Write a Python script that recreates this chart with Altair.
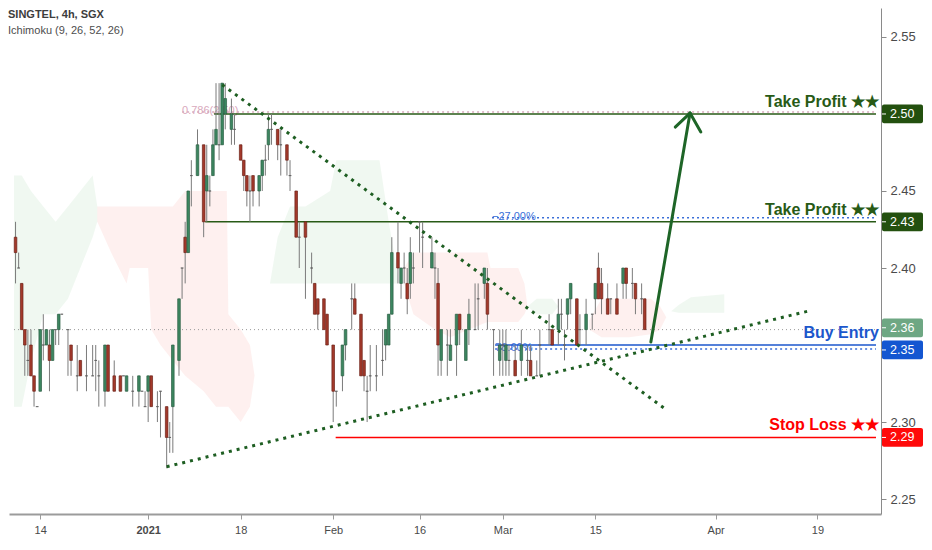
import altair as alt
import pandas as pd

# ---------------- data ----------------
bars = [1, 2, 3, 4, 5, 6, 7, 8, 9, 10, 11, 12, 13, 14, 15, 16, 18, 19, 21, 22, 24, 26, 27, 28, 30, 31, 33, 35, 36, 37,
        39, 41, 42, 43, 44, 45, 47, 48, 50, 51, 52, 54, 55, 56, 57, 58, 60, 62, 63, 64, 65, 66, 67, 68, 69, 71, 72, 74,
        75, 76, 77, 78, 80, 81, 82, 83, 84, 86, 87, 89, 90, 92, 93, 95, 97, 98, 99, 101, 102, 104, 105, 107, 108, 110,
        111, 113, 114, 115, 116, 118, 120, 121, 122, 123, 125, 126, 127, 128, 129, 130, 132, 133, 136, 137, 138, 139,
        141, 142, 144, 145, 147, 148, 150, 151, 153, 154, 156, 158, 159, 160, 161, 163, 165, 167, 168, 170, 171, 174,
        175, 177, 178, 179, 180, 181, 183, 184, 186, 188, 189, 190, 191, 193, 194, 196, 198, 199, 201, 202, 204, 205]
opens = [2.42, 2.40, 2.39, 2.36, 2.34, 2.35, 2.33, 2.31, 2.32, 2.35, 2.35, 2.35, 2.34, 2.36, 2.36, 2.37, 2.36, 2.35,
         2.33, 2.34, 2.33, 2.33, 2.34, 2.33, 2.32, 2.35, 2.33, 2.33, 2.33, 2.32, 2.32, 2.32, 2.32, 2.31, 2.32, 2.33,
         2.31, 2.32, 2.31, 2.29, 2.31, 2.34, 2.40, 2.42, 2.41, 2.46, 2.46, 2.48, 2.45, 2.45, 2.46, 2.48, 2.48, 2.48,
         2.50, 2.49, 2.49, 2.48, 2.47, 2.46, 2.45, 2.46, 2.45, 2.46, 2.47, 2.48, 2.49, 2.49, 2.48, 2.48, 2.46, 2.45,
         2.42, 2.43, 2.40, 2.39, 2.38, 2.38, 2.37, 2.35, 2.32, 2.33, 2.35, 2.38, 2.38, 2.37, 2.34, 2.32, 2.33, 2.33,
         2.34, 2.35, 2.35, 2.37, 2.41, 2.39, 2.40, 2.39, 2.39, 2.40, 2.43, 2.42, 2.40, 2.40, 2.39, 2.34, 2.35, 2.34,
         2.35, 2.37, 2.34, 2.36, 2.36, 2.38, 2.39, 2.39, 2.36, 2.34, 2.35, 2.34, 2.34, 2.34, 2.34, 2.34, 2.34, 2.33,
         2.35, 2.36, 2.36, 2.36, 2.37, 2.35, 2.37, 2.38, 2.38, 2.36, 2.36, 2.37, 2.38, 2.40, 2.39, 2.38, 2.38, 2.38,
         2.39, 2.40, 2.39, 2.39, 2.38, 2.38]
highs = [2.43, 2.41, 2.39, 2.36, 2.36, 2.36, 2.33, 2.31, 2.36, 2.37, 2.36, 2.36, 2.36, 2.36, 2.37, 2.37, 2.36, 2.35,
         2.35, 2.34, 2.35, 2.35, 2.35, 2.34, 2.35, 2.35, 2.34, 2.33, 2.33, 2.33, 2.33, 2.33, 2.32, 2.32, 2.33, 2.33,
         2.32, 2.32, 2.31, 2.30, 2.35, 2.38, 2.40, 2.43, 2.45, 2.47, 2.49, 2.48, 2.48, 2.46, 2.49, 2.52, 2.52, 2.52,
         2.52, 2.51, 2.50, 2.48, 2.47, 2.46, 2.46, 2.46, 2.46, 2.47, 2.48, 2.50, 2.50, 2.49, 2.49, 2.48, 2.47, 2.45,
         2.43, 2.43, 2.41, 2.39, 2.38, 2.38, 2.37, 2.35, 2.32, 2.35, 2.36, 2.39, 2.39, 2.37, 2.34, 2.33, 2.35, 2.35,
         2.36, 2.36, 2.37, 2.42, 2.43, 2.40, 2.41, 2.40, 2.42, 2.41, 2.43, 2.43, 2.42, 2.41, 2.40, 2.36, 2.36, 2.36,
         2.37, 2.37, 2.36, 2.38, 2.39, 2.39, 2.40, 2.40, 2.36, 2.36, 2.36, 2.36, 2.35, 2.35, 2.36, 2.35, 2.35, 2.34,
         2.36, 2.37, 2.36, 2.38, 2.38, 2.36, 2.38, 2.39, 2.38, 2.37, 2.38, 2.37, 2.39, 2.41, 2.40, 2.39, 2.38, 2.39,
         2.40, 2.40, 2.40, 2.39, 2.39, 2.38]
lows = [2.39, 2.40, 2.36, 2.33, 2.33, 2.33, 2.31, 2.31, 2.32, 2.34, 2.35, 2.32, 2.34, 2.35, 2.35, 2.37, 2.33, 2.33,
        2.32, 2.33, 2.32, 2.33, 2.32, 2.31, 2.31, 2.32, 2.32, 2.32, 2.33, 2.32, 2.31, 2.31, 2.32, 2.31, 2.30, 2.31,
        2.30, 2.29, 2.27, 2.28, 2.28, 2.33, 2.38, 2.39, 2.41, 2.44, 2.46, 2.42, 2.43, 2.44, 2.46, 2.48, 2.47, 2.48,
        2.49, 2.48, 2.48, 2.47, 2.45, 2.44, 2.43, 2.44, 2.44, 2.45, 2.46, 2.47, 2.48, 2.47, 2.46, 2.46, 2.45, 2.42,
        2.40, 2.38, 2.39, 2.37, 2.36, 2.36, 2.35, 2.30, 2.31, 2.32, 2.34, 2.36, 2.37, 2.33, 2.32, 2.30, 2.32, 2.32,
        2.33, 2.34, 2.35, 2.37, 2.39, 2.38, 2.39, 2.37, 2.38, 2.39, 2.41, 2.40, 2.40, 2.38, 2.33, 2.33, 2.33, 2.34,
        2.33, 2.35, 2.34, 2.35, 2.36, 2.36, 2.38, 2.36, 2.33, 2.33, 2.33, 2.33, 2.33, 2.33, 2.33, 2.33, 2.33, 2.33,
        2.33, 2.35, 2.35, 2.35, 2.36, 2.34, 2.36, 2.37, 2.35, 2.35, 2.35, 2.36, 2.37, 2.38, 2.37, 2.37, 2.37, 2.37,
        2.38, 2.38, 2.38, 2.37, 2.37, 2.36]
closes = [2.41, 2.40, 2.36, 2.35, 2.34, 2.33, 2.32, 2.31, 2.36, 2.35, 2.36, 2.34, 2.36, 2.36, 2.37, 2.37, 2.36, 2.34,
          2.33, 2.33, 2.33, 2.33, 2.34, 2.33, 2.35, 2.32, 2.32, 2.32, 2.33, 2.33, 2.32, 2.33, 2.32, 2.31, 2.33, 2.31,
          2.31, 2.32, 2.29, 2.29, 2.35, 2.38, 2.40, 2.41, 2.45, 2.46, 2.48, 2.43, 2.46, 2.45, 2.48, 2.49, 2.48, 2.52,
          2.51, 2.50, 2.49, 2.47, 2.46, 2.45, 2.45, 2.45, 2.46, 2.47, 2.47, 2.49, 2.49, 2.48, 2.48, 2.47, 2.46, 2.42,
          2.42, 2.42, 2.40, 2.37, 2.37, 2.36, 2.35, 2.32, 2.32, 2.35, 2.36, 2.38, 2.37, 2.33, 2.33, 2.32, 2.33, 2.33,
          2.34, 2.36, 2.37, 2.41, 2.40, 2.40, 2.40, 2.38, 2.41, 2.40, 2.43, 2.42, 2.41, 2.40, 2.35, 2.36, 2.35, 2.35,
          2.37, 2.36, 2.36, 2.37, 2.36, 2.38, 2.40, 2.37, 2.36, 2.35, 2.35, 2.35, 2.34, 2.33, 2.35, 2.34, 2.33, 2.33,
          2.35, 2.36, 2.35, 2.37, 2.37, 2.35, 2.38, 2.39, 2.35, 2.36, 2.37, 2.37, 2.39, 2.38, 2.38, 2.37, 2.38, 2.37,
          2.40, 2.39, 2.39, 2.38, 2.38, 2.36]

# Ichimoku cloud segments (bar, span top, span bottom)
cloud_green_1 = ([0.5, 3, 6, 10, 14, 18, 22, 26, 27.5],
                 [2.46, 2.46, 2.45, 2.44, 2.43, 2.44, 2.45, 2.46, 2.44],
                 [2.31, 2.31, 2.34, 2.37, 2.37, 2.38, 2.40, 2.42, 2.43])
cloud_red_1 = ([27.5, 32, 37, 38, 44, 45, 48, 52, 56, 62, 66, 69.5, 70, 74, 77, 78.5],
               [2.44, 2.44, 2.44, 2.44, 2.44, 2.44, 2.44, 2.44, 2.45, 2.45, 2.45, 2.45, 2.37, 2.36, 2.35, 2.33],
               [2.43, 2.41, 2.39, 2.40, 2.40, 2.36, 2.35, 2.34, 2.33, 2.32, 2.31, 2.31, 2.31, 2.30, 2.31, 2.33])
cloud_green_2 = ([83.5, 86, 90, 95, 103, 105, 112, 119, 122, 125],
                 [2.39, 2.42, 2.44, 2.44, 2.45, 2.47, 2.47, 2.47, 2.43, 2.395],
                 [2.39, 2.39, 2.39, 2.39, 2.39, 2.39, 2.39, 2.39, 2.39, 2.39])
cloud_red_2 = ([127, 130, 137, 142, 148, 154, 155, 164, 166, 167],
               [2.40, 2.41, 2.41, 2.41, 2.41, 2.41, 2.40, 2.40, 2.39, 2.375],
               [2.39, 2.37, 2.36, 2.355, 2.36, 2.365, 2.365, 2.365, 2.37, 2.375])
cloud_green_3 = ([167, 170, 175, 177],
                 [2.375, 2.38, 2.38, 2.375],
                 [2.375, 2.37, 2.37, 2.375])
cloud_red_3 = ([187, 191, 200, 207, 210, 212],
               [2.366, 2.38, 2.38, 2.38, 2.375, 2.368],
               [2.36, 2.355, 2.355, 2.357, 2.36, 2.368])
cloud_green_4 = ([213.6, 216, 220, 230.8],
                 [2.372, 2.376, 2.381, 2.383],
                 [2.372, 2.371, 2.371, 2.371])

x_tick_bars = [9, 44, 74, 104, 132, 159, 189, 228, 261]
x_tick_text = ["14", "2021", "18", "Feb", "16", "Mar", "15", "Apr", "19"]
# 2.50 and 2.35 axis labels are hidden under the price badges in the reference
y_ticks = [2.25, 2.30, 2.40, 2.45, 2.55]

# horizontal levels: name, price, start bar
level_names = ["tp1", "tp2", "buy", "sl"]
level_prices = [2.50, 2.43, 2.35, 2.29]
level_start = [65.4, 62.5, 156.5, 104.8]
level_texts = ["Take Profit ★★", "Take Profit ★★", "Buy Entry", "Stop Loss ★★"]

fib_names = ["f786", "f27", "f786b"]
fib_prices = [2.5013, 2.4327, 2.3474]
fib_start = [55, 155.5, 156.5]
fib_texts = ["0.786(2.50)", "−27.00%", "78.60%"]

last_price = 2.36

badge_text = ["2.50", "2.43", "2.36", "2.35", "2.29"]
badge_pos = [2.50, 2.43, 2.3612, 2.3468, 2.29]
badge_kind = ["tp", "tp", "last", "buy", "sl"]

# trendlines (bar, price)
trend_id = ["down", "down", "up", "up"]
trend_bar = [68, 212, 50, 258]
trend_price = [2.519, 2.308, 2.271, 2.372]

arrow_bar = [207, 219.7]
arrow_price = [2.352, 2.5006]
head_bar = [214.9, 223.2]
head_price = [2.4915, 2.4883]

# ---------------- chart ----------------
W, H = 872, 506
X_DOM = [0.5, 280]
X_END = 280
xs = alt.Scale(domain=X_DOM, nice=False, zero=False)
ys = alt.Scale(domain=[2.2403, 2.5688], nice=False, zero=False)

GREEN = "#285a16"
BADGE_GREEN = "#23500f"
BLUE = "#1c57cc"
RED = "#ff0000"
TREND = "#1e5e22"

label_expr = "[" + ",".join("'%s'" % t for t in x_tick_text) + "][indexof([" + \
    ",".join(str(b) for b in x_tick_bars) + "], datum.value)]"

xaxis = alt.Axis(values=x_tick_bars, labelExpr=label_expr, title=None, grid=False,
                 domainColor="#9b9b9b", domainWidth=2, tickColor="#9b9b9b", tickSize=5,
                 labelColor="#4a4a4a", labelFontSize=11, labelFont="Liberation Sans",
                 labelPadding=5,
                 labelFontWeight={"condition": {"test": "datum.value == 44", "value": "bold"},
                                  "value": "normal"})
yaxis = alt.Axis(values=y_ticks, format=".2f", orient="right", title=None, grid=False,
                 domainColor="#8a8a8a", tickColor="#8a8a8a", tickSize=5, labelPadding=4,
                 labelColor="#4a4a4a", labelFontSize=13, labelFont="Liberation Sans")


def X(field):
    return alt.X(field, type="quantitative", scale=xs, axis=xaxis)


def Y(field):
    return alt.Y(field, type="quantitative", scale=ys, axis=yaxis)


candles = pd.DataFrame({"bar": bars, "open": opens, "high": highs, "low": lows, "close": closes})
candles["dir"] = ["up" if c > o else ("down" if c < o else "flat") for o, c in zip(opens, closes)]

cloud_rows = {"g": [], "r": []}
for seg, (kind, data) in enumerate([("g", cloud_green_1), ("r", cloud_red_1), ("g", cloud_green_2),
                                    ("r", cloud_red_2), ("g", cloud_green_3), ("r", cloud_red_3),
                                    ("g", cloud_green_4)]):
    for b, t, bt in zip(*data):
        cloud_rows[kind].append({"seg": seg, "bar": b, "top": t, "bot": bt})

cloud_g = alt.Chart(pd.DataFrame(cloud_rows["g"])).mark_area(
    color="#43a047", opacity=0.08, interpolate="linear").encode(
    x=X("bar"), y=Y("top"), y2="bot", detail="seg:N")
cloud_r = alt.Chart(pd.DataFrame(cloud_rows["r"])).mark_area(
    color="#f44336", opacity=0.08, interpolate="linear").encode(
    x=X("bar"), y=Y("top"), y2="bot", detail="seg:N")

last_df = pd.DataFrame({"price": [last_price], "x0": [X_DOM[0]], "x1": [X_END]})
last_line = alt.Chart(last_df).mark_rule(color="#9a9a9a", strokeWidth=1, strokeDash=[1, 3]).encode(
    x=X("x0"), x2="x1", y=Y("price"))

lv = pd.DataFrame({"name": level_names, "price": level_prices, "start": level_start,
                   "end": [X_END] * 4, "text": level_texts})
level_color = alt.Scale(domain=level_names, range=[GREEN, GREEN, BLUE, RED])
level_lines = alt.Chart(lv).mark_rule(strokeWidth=1.6).encode(
    x=X("start"), x2="end", y=Y("price"),
    color=alt.Color("name:N", scale=level_color, legend=None))
level_labels = alt.Chart(lv).mark_text(align="right", baseline="middle", dy=-12, fontSize=16,
                                       fontWeight="bold", font="Liberation Sans").encode(
    x=alt.value(W - 2), y=Y("price"), text="text:N",
    color=alt.Color("name:N", scale=level_color, legend=None))

fb = pd.DataFrame({"name": fib_names, "price": fib_prices, "start": fib_start,
                   "end": [X_END] * 3, "text": fib_texts})
fib_color = alt.Scale(domain=fib_names, range=["#d9a9bd", "#3b6fd8", "#3b6fd8"])
fib_lines = alt.Chart(fb).mark_rule(strokeWidth=1.5, strokeDash=[2, 3]).encode(
    x=X("start"), x2="end", y=Y("price"),
    color=alt.Color("name:N", scale=fib_color, legend=None))
fib_labels = alt.Chart(fb).mark_text(align="left", baseline="middle", dy=-1, fontSize=11,
                                     font="Liberation Sans").encode(
    x=X("start"), y=Y("price"), text="text:N",
    color=alt.Color("name:N", scale=fib_color, legend=None))

wicks = alt.Chart(candles).mark_rule(color="#7b7b7b", strokeWidth=1).encode(
    x=X("bar"), y=Y("low"), y2="high")
bodies = alt.Chart(candles).mark_bar(size=2.6, strokeWidth=0.7).encode(
    x=X("bar"), y=Y("open"), y2="close",
    color=alt.Color("dir:N", scale=alt.Scale(domain=["up", "down", "flat"],
                                             range=["#3c8660", "#a3392b", "#6f6f6f"]), legend=None),
    stroke=alt.Stroke("dir:N", scale=alt.Scale(domain=["up", "down", "flat"],
                                               range=["#2b5f44", "#6d2319", "#5a5a5a"]), legend=None),
)

td = pd.DataFrame({"id": trend_id, "bar": trend_bar, "price": trend_price})
trends = alt.Chart(td).mark_line(color=TREND, strokeWidth=3, strokeDash=[3, 5]).encode(
    x=X("bar"), y=Y("price"), detail="id:N")

ad = pd.DataFrame({"bar": arrow_bar, "price": arrow_price})
arrow = alt.Chart(ad).mark_line(color="#1e6527", strokeWidth=3, strokeCap="round").encode(
    x=X("bar"), y=Y("price"))
hd = pd.DataFrame({"bar": head_bar, "price": head_price,
                   "tipbar": [arrow_bar[1]] * 2, "tipprice": [arrow_price[1]] * 2})
head = alt.Chart(hd).mark_rule(color="#1e6527", strokeWidth=3, strokeCap="round").encode(
    x=X("bar"), y=Y("price"), x2="tipbar", y2="tipprice")

bd = pd.DataFrame({"text": badge_text, "pos": badge_pos, "kind": badge_kind})
badge_color = alt.Scale(domain=["tp", "last", "buy", "sl"],
                        range=[BADGE_GREEN, "#6ea783", "#1456d1", "#ff0a0a"])
badges = alt.Chart(bd).transform_calculate(lo="datum.pos - 0.0061", hi="datum.pos + 0.0061").mark_rect(
    cornerRadius=2).encode(
    x=alt.value(W + 1), x2=alt.value(W + 42), y=Y("lo"), y2="hi",
    color=alt.Color("kind:N", scale=badge_color, legend=None))
badge_ticks = alt.Chart(bd).mark_rule(color="#ffffff", strokeWidth=1).encode(
    x=alt.value(W + 1), x2=alt.value(W + 5), y=Y("pos"))
badge_texts = alt.Chart(bd).mark_text(align="left", baseline="middle", color="white", fontSize=12.5,
                                      font="Liberation Sans").encode(
    x=alt.value(W + 9), y=Y("pos"), text="text:N")

hdr = pd.DataFrame({"t": ["SINGTEL, 4h, SGX", "Ichimoku (9, 26, 52, 26)"]})
header1 = alt.Chart(hdr.iloc[[0]]).mark_text(align="left", baseline="middle", fontSize=11, fontWeight="bold",
                                             color="#3d3d3d", font="Liberation Sans").encode(
    x=alt.value(-1), y=alt.value(7), text="t:N")
header2 = alt.Chart(hdr.iloc[[1]]).mark_text(align="left", baseline="middle", fontSize=11,
                                             color="#4d4d4d", font="Liberation Sans").encode(
    x=alt.value(-1), y=alt.value(23), text="t:N")

chart = alt.layer(
    cloud_g, cloud_r, last_line, fib_lines, fib_labels, level_lines, wicks, bodies, trends, arrow, head,
    level_labels, badges, badge_ticks, badge_texts, header1, header2
).resolve_scale(color="independent", stroke="independent").properties(
    width=W, height=H, padding=0, background="white").configure_view(stroke=None)

chart.save("out.html", embed_options={"renderer": "svg", "actions": False})
